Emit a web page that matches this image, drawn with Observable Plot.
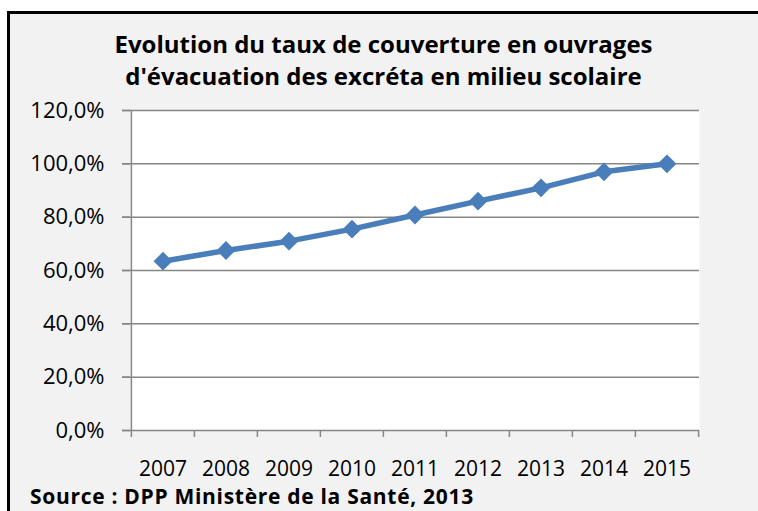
<!DOCTYPE html>
<html>
<head>
<meta charset="utf-8">
<script src="https://cdn.jsdelivr.net/npm/d3@7"></script>
<script src="https://cdn.jsdelivr.net/npm/@observablehq/plot@0.6"></script>
<style>
  html, body { margin: 0; padding: 0; background: #ffffff; }
  #page { position: relative; width: 758px; height: 511px; overflow: hidden; font-family: "Open Sans", sans-serif; }
  #frame { position: absolute; left: 7px; top: 11px; width: 800px; height: 600px; border-left: 3px solid #000; border-top: 3px solid #000; background: #f2f2f2; }
  #title { position: absolute; left: 0; top: 28px; width: 767px; text-align: center; font-weight: bold; font-size: 24px; line-height: 32px; color: #000; }
  #chart { position: absolute; left: 0; top: 96px; }
  #source { position: absolute; left: 30px; top: 482px; font-weight: bold; font-size: 21px; line-height: normal; letter-spacing: 0.7px; color: #000; white-space: nowrap; }
</style>
</head>
<body>
<div id="page">
  <div id="frame"></div>
  <div id="title">Evolution du taux de couverture en ouvrages<br>d'évacuation des excréta en milieu scolaire</div>
  <div id="chart"></div>
  <div id="source">Source : DPP Ministère de la Santé, 2013</div>
</div>
<script>
const years = ["2007", "2008", "2009", "2010", "2011", "2012", "2013", "2014", "2015"];
const rates = [63.5, 67.5, 71.0, 75.5, 80.8, 86.0, 91.0, 97.0, 100.0];
const yTicks = [0, 20, 40, 60, 80, 100, 120];

const W = 758, H = 388, ML = 130, MR = 59, MT = 14, MB = 54;
const bw = (W - ML - MR) / years.length;
const data = years.map((y, i) => ({year: y, rate: rates[i]}));
const gridColor = "#868686";
const fmt = d => d.toFixed(1).replace(".", ",") + "%";

const chart = Plot.plot({
  width: W,
  height: H,
  marginLeft: ML,
  marginRight: MR,
  marginTop: MT,
  marginBottom: MB,
  style: {fontFamily: "Open Sans", fontSize: "22px", color: "#000", background: "transparent", overflow: "visible"},
  x: {type: "band", domain: years, padding: 0, tickSize: 0, tickPadding: 31, label: null},
  y: {domain: [0, 120], ticks: yTicks, tickFormat: fmt, tickSize: 8, tickPadding: 18, label: null},
  marks: [
    Plot.frame({fill: "white", stroke: null}),
    Plot.ruleY(yTicks, {stroke: gridColor, strokeWidth: 1.5, insetLeft: -8}),
    Plot.ruleX(years, {x: d => d, y1: 0, y2: -2.6, stroke: gridColor, strokeWidth: 1.5, dx: -bw / 2}),
    Plot.ruleX([years[years.length - 1]], {x: d => d, y1: 0, y2: -2.6, stroke: gridColor, strokeWidth: 1.5, dx: bw / 2}),
    Plot.ruleX([years[0]], {x: d => d, y1: 0, y2: 120, stroke: gridColor, strokeWidth: 1.5, dx: -bw / 2}),
    Plot.line(data, {x: "year", y: "rate", stroke: "#4a7ebb", strokeWidth: 5.5, strokeLinejoin: "round"}),
    Plot.dot(data, {x: "year", y: "rate", symbol: "diamond2", r: 8.5, fill: "#4a7ebb", stroke: "none"})
  ]
});
chart.querySelectorAll("[aria-label='y-axis tick'] path, [aria-label='y-axis'] path").forEach(p => { p.setAttribute("stroke", gridColor); p.setAttribute("stroke-width", "1.5"); });
chart.querySelectorAll("[aria-label='x-axis tick label'] text, [aria-label='x-axis'] text").forEach(t => t.setAttribute("font-size", "21px"));
document.getElementById("chart").appendChild(chart);
</script>
</body>
</html>
